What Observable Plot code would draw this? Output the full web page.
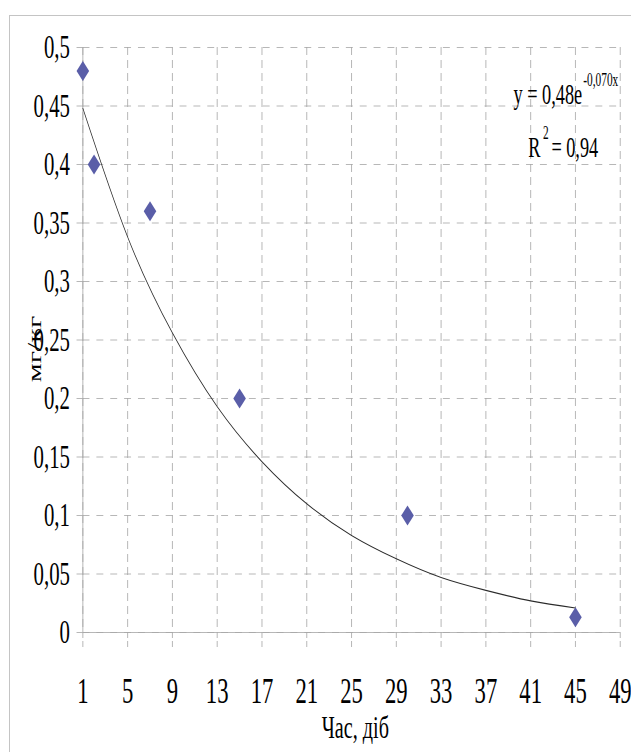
<!DOCTYPE html>
<html>
<head>
<meta charset="utf-8">
<script src="https://cdn.jsdelivr.net/npm/d3@7"></script>
<script src="https://cdn.jsdelivr.net/npm/@observablehq/plot@0.6"></script>
<style>
  html, body { margin: 0; padding: 0; background: #fff; }
  body { width: 631px; height: 752px; overflow: hidden; position: relative; }
  #frame { position: absolute; left: 9px; top: 15px; width: 700px; height: 800px; border: 1px solid #c4c4c4; box-sizing: border-box; }
  #chart { position: absolute; left: 0; top: 0; width: 1002px; }
  #chart svg { max-width: none !important; background: transparent !important; }
  #chart svg, #chart svg text { font-family: "Liberation Serif", "Times New Roman", serif !important; }
</style>
</head>
<body>
<div id="frame"></div>
<div id="chart"></div>
<script>
// Measured data (days, mg/kg)
const days = [1, 2, 7, 15, 30, 45];
const values = [0.48, 0.40, 0.36, 0.20, 0.10, 0.013];

// Exponential trend line
const trendDays = [1, 5, 9, 13, 17, 21, 25, 29, 33, 37, 41, 45];
const trendValues = [0.448, 0.338, 0.256, 0.193, 0.146, 0.110, 0.083, 0.063, 0.047, 0.036, 0.027, 0.021];

// Axis ticks and labels
const xTicks = [1, 5, 9, 13, 17, 21, 25, 29, 33, 37, 41, 45, 49];
const xTickLabels = ["1", "5", "9", "13", "17", "21", "25", "29", "33", "37", "41", "45", "49"];
const yTicks = [0, 0.05, 0.1, 0.15, 0.2, 0.25, 0.3, 0.35, 0.4, 0.45, 0.5];
const yTickLabels = ["0", "0,05", "0,1", "0,15", "0,2", "0,25", "0,3", "0,35", "0,4", "0,45", "0,5"];

// Texts
const xTitle = "Час, діб";
const yTitle = "мг/кг";
const eqMain = "y = 0,48e";
const eqExp = "-0,070x";
const r2Label = "R";
const r2Sup = "2";
const r2Value = "= 0,94";

const points = days.map((d, i) => ({day: d, value: values[i]}));
const trend = trendDays.map((d, i) => ({day: d, value: trendValues[i]}));

const S = 0.63; // horizontal compression of the original picture
const W = 1002;
const grid = "#a6a6a6";

const chart = Plot.plot({
  width: W,
  height: 752,
  marginLeft: 131,
  marginRight: 18,
  marginTop: 47,
  marginBottom: 120,
  x: {domain: [1, 49]},
  y: {domain: [0, 0.5]},
  marks: [
    Plot.gridY(yTicks, {stroke: grid, strokeOpacity: 1, strokeDasharray: "11,11"}),
    Plot.gridX(xTicks, {stroke: grid, strokeOpacity: 1, strokeDasharray: "8,5"}),
    Plot.ruleX([1], {y1: 0, y2: 0.5, stroke: grid}),
    Plot.ruleY([0], {x1: 1, x2: 49, stroke: grid}),
    Plot.axisY({
      ticks: yTicks,
      tickFormat: d => yTickLabels[yTicks.indexOf(d)],
      tickSize: 9.5,
      tickPadding: 11,
      fontSize: 33,
      stroke: grid,
      label: null
    }),
    Plot.axisX({
      ticks: xTicks,
      tickFormat: d => xTickLabels[xTicks.indexOf(d)],
      tickSize: 17,
      tickPadding: 28,
      fontSize: 36,
      stroke: grid,
      strokeDasharray: "6,3",
      label: null
    }),
    Plot.line(trend, {x: "day", y: "value", stroke: "#2b2b2b", strokeWidth: 1.1, curve: "natural"}),
    Plot.dot(points, {x: "day", y: "value", symbol: "diamond2", r: 9, fill: "#5a5ea8", stroke: "none"}),
    // equation
    Plot.text([eqMain], {x: () => 45.6, y: () => 0.452, text: d => d, textAnchor: "end", lineAnchor: "bottom", fontSize: 29}),
    Plot.text([eqExp], {x: () => 45.7, y: () => 0.4667, text: d => d, textAnchor: "start", lineAnchor: "bottom", fontSize: 18}),
    Plot.text([r2Label], {x: () => 40.78, y: () => 0.406, text: d => d, textAnchor: "start", lineAnchor: "bottom", fontSize: 29}),
    Plot.text([r2Sup], {x: () => 42.1, y: () => 0.4222, text: d => d, textAnchor: "start", lineAnchor: "bottom", fontSize: 18}),
    Plot.text([r2Value], {x: () => 42.85, y: () => 0.406, text: d => d, textAnchor: "start", lineAnchor: "bottom", fontSize: 29}),
    // axis titles
    Plot.text([xTitle], {frameAnchor: "bottom", text: d => d, textAnchor: "middle", lineAnchor: "bottom", dx: 6, dy: 105, fontSize: 32}),
    Plot.text([yTitle], {frameAnchor: "left", text: d => d, textAnchor: "middle", lineAnchor: "middle", rotate: -90, dx: -76, dy: 9, fontSize: 30})
  ]
});

chart.style.transform = `scaleX(${S})`;
chart.style.transformOrigin = "0 0";
chart.style.display = "block";
document.getElementById("chart").appendChild(chart);
</script>
</body>
</html>
